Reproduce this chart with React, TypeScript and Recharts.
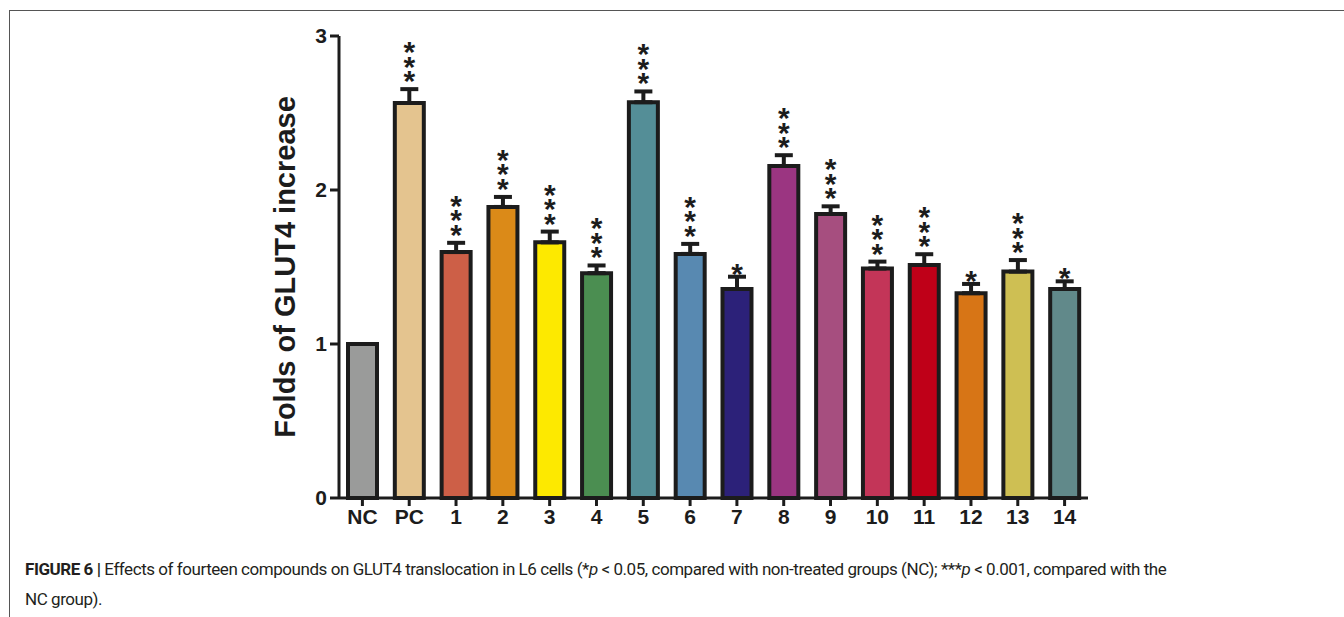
import { BarChart, Bar, XAxis, YAxis, Cell, ErrorBar, LabelList } from 'recharts';

// group labels on the x axis
const groups = ['NC', 'PC', '1', '2', '3', '4', '5', '6', '7', '8', '9', '10', '11', '12', '13', '14'];
// folds of GLUT4 increase (mean)
const folds = [1.0, 2.565, 1.597, 1.89, 1.66, 1.46, 2.57, 1.585, 1.357, 2.156, 1.844, 1.49, 1.513, 1.33, 1.47, 1.357];
// upper error (SEM)
const sem = [0, 0.09, 0.06, 0.065, 0.07, 0.05, 0.07, 0.065, 0.08, 0.07, 0.05, 0.045, 0.07, 0.06, 0.075, 0.05];
// significance marks
const stars = ['', '***', '***', '***', '***', '***', '***', '***', '*', '***', '***', '***', '***', '*', '***', '*'];
const yTicks = [0, 1, 2, 3];

const COLORS = [
  '#9a9b9a', '#e4c48f', '#cd5f47', '#db8a18', '#fde900', '#4b8e51', '#548e97', '#5889b1',
  '#2c2179', '#9b3581', '#a64e7f', '#c33558', '#bf0018', '#d77516', '#cebf53', '#61898a',
];

const data = groups.map((g, i) => ({ group: g, folds: folds[i], err: [0, sem[i]], sig: stars[i] }));

const INK = '#1c1c1c';
const FONT = '"Liberation Sans", Arial, Helvetica, sans-serif';
const STAR_FS = 30;
const STAR_STEP = 15;

// stacked asterisks above the error cap, drawn as one vertical text per bar
const renderStars = (props: any) => {
  const { x, y, width, height, index } = props;
  const mark = stars[index];
  if (!mark) return null;
  const pxPerUnit = height / folds[index];
  const capTop = y - sem[index] * pxPerUnit;
  const cx = x + width / 2;
  const n = mark.length;
  const bottomCy = capTop - 11;
  if (n === 1) {
    return (
      <text x={cx} y={bottomCy + 0.6 * STAR_FS} textAnchor="middle" fontSize={STAR_FS} fontWeight="bold"
        fontFamily={FONT} fill={INK}>*</text>
    );
  }
  const topCy = bottomCy - (n - 1) * STAR_STEP;
  return (
    <text x={cx} y={topCy - 0.433 * STAR_FS} fontSize={STAR_FS} fontWeight="bold" fontFamily={FONT} fill={INK}
      style={{ writingMode: 'vertical-rl', textOrientation: 'upright', letterSpacing: STAR_STEP - 1.117 * STAR_FS }}>
      {mark}
    </text>
  );
};

const renderYLabel = (props: any) => {
  const vb = props.viewBox;
  const x = vb.x + 6;
  const y = vb.y + vb.height / 2;
  return (
    <text x={x} y={y} transform={`rotate(-90 ${x} ${y})`} textAnchor="middle" dominantBaseline="central"
      fontSize={29} fontWeight="bold" fontFamily={FONT} fill={INK}>
      Folds of GLUT4 increase
    </text>
  );
};

export default function App() {
  return (
    <div style={{ position: 'absolute', left: 0, top: 0, width: 1344, height: 617, background: '#fff', overflow: 'hidden' }}>
      <div style={{ position: 'absolute', left: 9, top: 10, width: 1340, height: 620, borderTop: '1px solid #555', borderLeft: '1px solid #555' }} />
      <div style={{ position: 'absolute', left: 0, top: 0 }}>
        <BarChart width={1344} height={617} data={data} margin={{ top: 36, right: 256, bottom: 89, left: 279 }}>
          <XAxis dataKey="group" interval={0} height={30} tickSize={8} tickMargin={3}
            axisLine={{ stroke: INK, strokeWidth: 3 }} tickLine={{ stroke: INK, strokeWidth: 3 }}
            tick={{ fill: INK, fontSize: 21, fontWeight: 'bold', fontFamily: FONT }} />
          <YAxis width={60} domain={[0, 3]} ticks={yTicks} tickSize={9} tickMargin={3}
            axisLine={{ stroke: INK, strokeWidth: 3 }} tickLine={{ stroke: INK, strokeWidth: 3 }}
            tick={{ fill: INK, fontSize: 21, fontWeight: 'bold', fontFamily: FONT }}
            label={renderYLabel} />
          <Bar dataKey="folds" barSize={29} stroke={INK} strokeWidth={4} isAnimationActive={false}>
            {data.map((d, i) => (
              <Cell key={`cell-${i}`} fill={COLORS[i]} />
            ))}
            <ErrorBar dataKey="err" width={9} stroke={INK} strokeWidth={4} direction="y" />
            <LabelList dataKey="sig" content={renderStars} />
          </Bar>
        </BarChart>
      </div>
      <div style={{ position: 'absolute', left: 25, top: 554, width: 1300, fontFamily: 'Roboto, sans-serif', fontSize: 17, letterSpacing: -0.45, lineHeight: '30px', color: '#231f20' }}>
        <b>FIGURE 6</b> <b>|</b> Effects of fourteen compounds on GLUT4 translocation in L6 cells (*<i>p</i> &lt; 0.05, compared with non-treated groups (NC); ***<i>p</i> &lt; 0.001, compared with the
        <br />NC group).
      </div>
    </div>
  );
}
